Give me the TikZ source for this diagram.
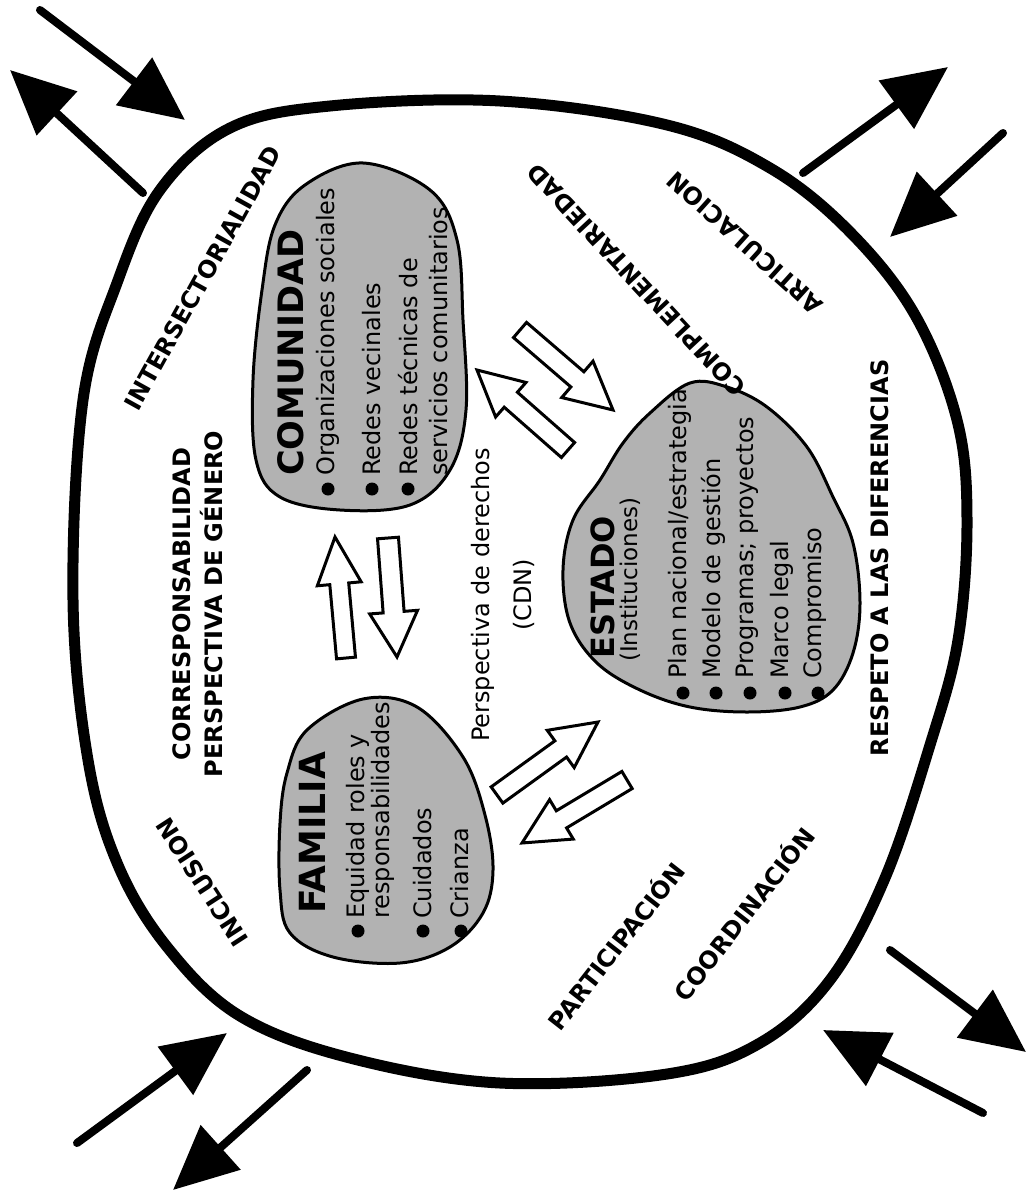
\documentclass[tikz,border=0pt]{standalone}
\usepackage{fontspec}
\setmainfont{DejaVu Sans}
\usetikzlibrary{arrows.meta,calc}
\tikzset{
  lbl/.style={font=\bfseries\fontsize{24}{28}\selectfont, inner sep=0pt},
  headtxt/.style={font=\bfseries\fontsize{#1}{36}\selectfont, inner sep=0pt, rotate=90, anchor=west},
  subtxt/.style={font=\fontsize{23}{26}\selectfont, inner sep=0pt, rotate=90, anchor=west},
  itemtxt/.style={font=\fontsize{24}{28}\selectfont, inner sep=0pt, rotate=90, anchor=west},
  wraptxt/.style={font=\fontsize{24}{#1}\selectfont, inner sep=0pt, rotate=90, anchor=west, align=left},
  blob/.style={draw=black, line width=3pt, fill=black!30},
  outerline/.style={draw=black, line width=11pt},
  corner/.style={line width=8pt, line cap=round, -{Triangle[length=64pt,width=58pt]}},
  blk/.style={draw=black, line width=3pt, fill=white, line join=miter},
  bul/.style={fill=black}
}
\newcommand\blkarrow[5]{%
  \coordinate (bb) at ($(#2)!#5!(#1)$);
  \draw[blk] ($(#1)!#3!90:(#2)$) -- ($(bb)!#3!90:(#2)$) -- ($(bb)!#4!90:(#2)$) -- (#2)
    -- ($(bb)!#4!-90:(#2)$) -- ($(bb)!#3!-90:(#2)$) -- ($(#1)!#3!-90:(#2)$) -- cycle;
}
\begin{document}
\begin{tikzpicture}[x=1pt,y=-1pt]
\useasboundingbox (0,0) rectangle (1034,1198);
\fill[white] (0,0) rectangle (1034,1198);

% outer boundary
\draw[outerline] plot[smooth cycle, tension=0.6] coordinates {
 (73,600) (83,400) (117,283) (160,190) (230,128) (330,106) (500,101) (667,125)
 (770,168) (850,232) (915,315) (957,420) (967,520) (958,640) (930,745) (885,878)
 (830,980) (760,1043) (667,1074) (500,1083) (350,1058) (240,1016) (168,948) (118,865) (88,760)};

% corner arrows
\coordinate (c1s) at (40,10);    \coordinate (c1e) at (185,120);
\coordinate (c2s) at (143,193);  \coordinate (c2e) at (10,70);
\coordinate (c3s) at (803,173);  \coordinate (c3e) at (948,67);
\coordinate (c4s) at (1003,133); \coordinate (c4e) at (890,237);
\coordinate (c5s) at (77,1143);  \coordinate (c5e) at (227,1033);
\coordinate (c6s) at (307,1070); \coordinate (c6e) at (173,1190);
\coordinate (c7s) at (890,950);  \coordinate (c7e) at (1026,1052);
\coordinate (c8s) at (983,1113); \coordinate (c8e) at (823,1030);
\foreach \i in {1,...,8} {\draw[corner] (c\i s) -- (c\i e);}

% blobs
\draw[blob] plot[smooth cycle, tension=0.6] coordinates {
 (363,163) (430,190) (457,240) (463,320) (466,410) (450,470) (410,505) (340,510)
 (280,497) (256,460) (253,380) (262,290) (275,225) (305,185)};
\draw[blob] plot[smooth cycle, tension=0.6] coordinates {
 (363,699) (417,707) (463,757) (485,815) (493,870) (483,913) (450,947) (400,963)
 (333,957) (290,933) (280,890) (280,823) (287,773) (307,730)};
\draw[blob] plot[smooth cycle, tension=0.6] coordinates {
 (690,383) (727,387) (767,407) (807,447) (833,497) (853,543) (860,603) (853,653)
 (833,690) (800,707) (747,712) (690,707) (640,690) (597,663) (570,623) (563,570)
 (573,520) (600,480) (623,443) (650,413)};

% COMUNIDAD
\node[headtxt=35] (comh) at (291,476) {COMUNIDAD};
\node[itemtxt] (com1) at (328,476) {Organizaciones sociales};
\node[itemtxt] (com2) at (372,476) {Redes vecinales};
\node[wraptxt=30] (com3) at (423,476) {Redes técnicas de\\servicios comunitarios};
\foreach \x in {328,372,408} {\fill[bul] (\x,489) circle (6.5);}

% FAMILIA
\node[headtxt=36] (famh) at (312,914) {FAMILIA};
\node[wraptxt=25] (fam1) at (370.5,919) {Equidad roles y\\responsabilidades};
\node[itemtxt] (fam3) at (423,919) {Cuidados};
\node[itemtxt] (fam4) at (460,919) {Crianza};
\foreach \x in {358,423,461} {\fill[bul] (\x,931) circle (6.5);}

% ESTADO
\node[headtxt=32] (esth) at (603,659) {ESTADO};
\node[subtxt] (ests) at (630,662) {(Instituciones)};
\node[itemtxt] (est1) at (680,679) {Plan nacional/estrategia};
\node[itemtxt] (est2) at (713,679) {Modelo de gestión};
\node[itemtxt] (est3) at (747,679) {Programas; proyectos};
\node[itemtxt] (est4) at (782,679) {Marco legal};
\node[itemtxt] (est5) at (815,679) {Compromiso};
\foreach \x in {683,716,750,785,818} {\fill[bul] (\x,693) circle (6.5);}

% block arrows
\coordinate (a1t) at (346,658); \coordinate (a1h) at (335,537);
\coordinate (a2t) at (388,538); \coordinate (a2h) at (397,657);
\coordinate (a3t) at (568,450); \coordinate (a3h) at (477,370);
\coordinate (a4t) at (520,330); \coordinate (a4h) at (613,410);
\coordinate (a5t) at (497,795); \coordinate (a5h) at (598,722);
\coordinate (a6t) at (627,780); \coordinate (a6h) at (522,843);
\blkarrow{a1t}{a1h}{9.5pt}{22pt}{47pt}
\blkarrow{a2t}{a2h}{10.5pt}{24pt}{45pt}
\blkarrow{a3t}{a3h}{10pt}{23pt}{45pt}
\blkarrow{a4t}{a4h}{10pt}{24pt}{47pt}
\blkarrow{a5t}{a5h}{10pt}{23pt}{46pt}
\blkarrow{a6t}{a6h}{10pt}{23pt}{46pt}

% labels
\node[lbl, rotate=61] (inter) at (203,278) {INTERSECTORIALIDAD};
\node[lbl, rotate=138] (artic) at (745,243) {ARTICULACION};
\node[lbl, rotate=133] (compl) at (636,280) {COMPLEMENTARIEDAD};
\node[lbl, rotate=123] (inclu) at (202,882) {INCLUSION};
\node[lbl, rotate=52] (parti) at (615,945) {PARTICIPACIÓN};
\node[lbl, rotate=52] (coord) at (743,913) {COORDINACIÓN};
\node[lbl, rotate=90] (respe) at (880,558) {RESPETO A LAS DIFERENCIAS};
\node[lbl, rotate=90, align=center, font=\bfseries\fontsize{24}{32}\selectfont] (corre) at (198,604)
  {CORRESPONSABILIDAD\\PERSPECTIVA DE GÉNERO};
\node[rotate=90, align=center, inner sep=0pt, font=\fontsize{24}{42}\selectfont] (persp) at (503,595)
  {Perspectiva de derechos\\(CDN)};
\end{tikzpicture}
\end{document}
